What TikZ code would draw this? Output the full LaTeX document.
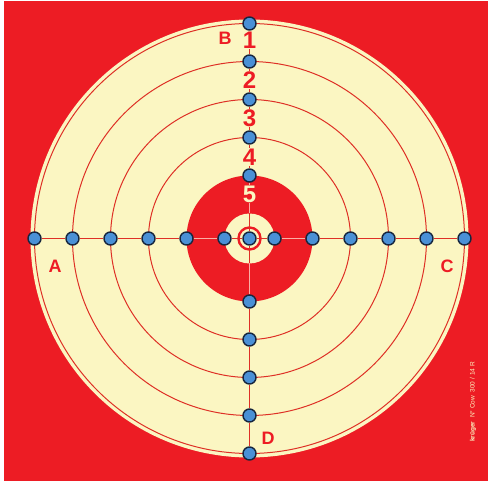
\documentclass[tikz,border=0pt]{standalone}
\usepackage{fontspec}
\setmainfont{Liberation Sans}
\definecolor{tred}{RGB}{237,28,36}
\definecolor{ringred}{RGB}{222,48,38}
\definecolor{cream}{RGB}{251,246,194}
\definecolor{dotblue}{RGB}{74,144,214}
\definecolor{dotline}{RGB}{22,38,62}
\definecolor{pinkline}{RGB}{250,175,165}
\begin{document}
\begin{tikzpicture}[x=1pt,y=-1pt,
 dot/.style={circle,fill=dotblue,draw=dotline,line width=1.4pt,minimum size=13pt,inner sep=0pt},
 ringline/.style={draw=ringred,line width=1pt},
 crossline/.style={draw=ringred,line width=1.4pt},
 crosslight/.style={draw=pinkline,line width=1.4pt},
 num/.style={font=\fontsize{24}{24}\selectfont\bfseries,text=tred,fill=cream,inner sep=0.5pt},
 letter/.style={font=\fontsize{18}{18}\selectfont\bfseries,text=tred}]
\useasboundingbox (0,0) rectangle (488,481);
\fill[white] (0,0) rectangle (488,481);
\fill[tred] (4,1) rectangle (488,481);
\coordinate (O) at (249.5,238.5);
\fill[cream] (O) circle (219);
\foreach \r in {215,177,139,101} \draw[ringline] (O) circle (\r);
\fill[tred] (O) circle (63);
\fill[cream] (O) circle (25);
\draw[tred,line width=2.4pt] (O) circle (11);
\coordinate (t1) at (249.5,213.5);
\coordinate (b1) at (249.5,263.5);
% dots
\node[dot] (C) at (249.5,238.5) {};
\foreach \r/\n in {25/1,63/2,101/3,139/4,177/5,215/6}{
  \node[dot] (L\n) at (249.5-\r,238.5) {};
  \node[dot] (R\n) at (249.5+\r,238.5) {};
}
\foreach \r/\n in {63/2,101/3,139/4,177/5,215/6}{
  \node[dot] (T\n) at (249.5,238.5-\r) {};
  \node[dot] (B\n) at (249.5,238.5+\r) {};
}
% cross lines
\path[crossline] (L6)--(L5)--(L4)--(L3)--(L2);
\path[crosslight] (L2)--(L1);
\path[crossline] (L1)--(C)--(R1);
\path[crosslight] (R1)--(R2);
\path[crossline] (R2)--(R3)--(R4)--(R5)--(R6);
\path[crossline] (T6)--(T5)--(T4)--(T3)--(T2);
\path[crosslight] (T2)--(t1);
\path[crossline] (t1)--(C)--(b1);
\path[crosslight] (b1)--(B2);
\path[crossline] (B2)--(B3)--(B4)--(B5)--(B6);
% numbers
\node[num] (n1) at (249.5,40) {1};
\node[num] (n2) at (249.5,80) {2};
\node[num] (n3) at (249.5,118) {3};
\node[num] (n4) at (249.5,157) {4};
\node[num,fill=tred,text=cream] (n5) at (249.5,194) {5};
% letters
\node[letter] (lB) at (225,38) {B};
\node[letter] (lA) at (55,266) {A};
\node[letter] (lC) at (447,266) {C};
\node[letter] (lD) at (268,438) {D};
% maker text
\node[rotate=90,anchor=west,text=cream,font=\fontsize{6.5}{6.5}\selectfont,inner sep=0pt] (mk) at (473,442) {\textbf{krüger}\ \ N° Cow\ \ 300 / 14 R};
\end{tikzpicture}
\end{document}
